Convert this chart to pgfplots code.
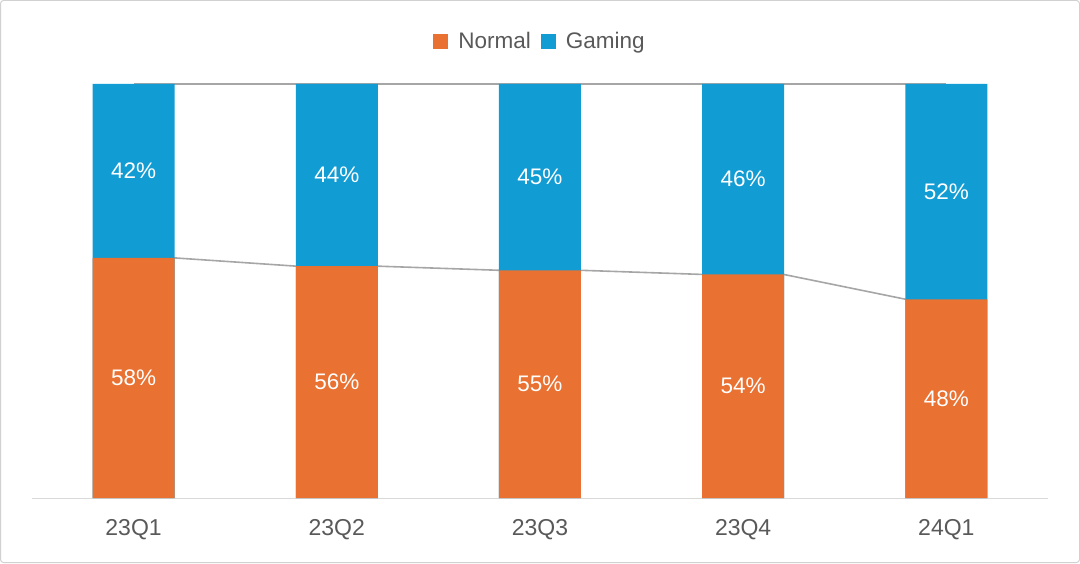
\documentclass[border=0pt]{standalone}
\usepackage{pgfplots}
\pgfplotsset{compat=1.18}
\usepackage{fontspec}
\setmainfont{Liberation Sans}
\definecolor{cNormal}{HTML}{E97132}
\definecolor{cGaming}{HTML}{129CD4}
\definecolor{txt}{HTML}{595959}
\definecolor{lgray}{HTML}{A6A6A6}
\begin{document}
\begin{tikzpicture}[x=1pt,y=1pt]
\draw[color=black!18, line width=1pt, rounded corners=3pt] (0.5,0.5) rectangle (1079.5,562.5);
\begin{axis}[
  at={(32pt,65pt)}, anchor=south west,
  scale only axis, width=1016pt, height=414pt,
  xmin=-0.5, xmax=4.5, ymin=0, ymax=100,
  axis x line=bottom, axis y line=none,
  x axis line style={-, draw=black!15, line width=1pt},
  xtick={0,1,2,3,4}, xticklabels={23Q1,23Q2,23Q3,23Q4,24Q1},
  major tick length=0pt,
  xticklabel style={anchor=base, yshift=-37pt, font=\fontsize{23}{27}\selectfont, text=txt},
  clip=false,
  legend style={at={(0.5,1.103)}, anchor=center, draw=none, fill=none,
    legend columns=-1, font=\fontsize{22.5}{27}\selectfont, text=txt,
    cells={anchor=base},
    /tikz/every odd column/.append style={column sep=8pt},
    /tikz/every even column/.append style={column sep=8pt}},
  legend image code/.code={\fill[#1, draw=none] (0pt,0pt) rectangle (15pt,15pt);},
]
\addlegendimage{fill=cNormal, draw=none}
\addlegendentry{Normal}
\addlegendimage{fill=cGaming, draw=none}
\addlegendentry{Gaming}
% connector lines
\addplot[forget plot, lgray, line width=1.6pt, mark=none] coordinates {(0,100) (4,100)};
\addplot[forget plot, lgray, line width=1.6pt, mark=none] coordinates {(0.2,58) (0.8,56) (1.2,56) (1.8,55) (2.2,55) (2.8,54) (3.2,54) (3.8,48)};
% Gaming (top part) drawn as full-height bars
\addplot[forget plot, ybar, bar width=82pt, bar shift=0pt, fill=cGaming, draw=none] coordinates {(0,100) (1,100) (2,100) (3,100) (4,100)};
% Normal
\addplot[forget plot, ybar, bar width=82pt, bar shift=0pt, fill=cNormal, draw=none] coordinates {(0,58) (1,56) (2,55) (3,54) (4,48)};
% labels
\addplot[forget plot, draw=none, mark=none, nodes near coords, point meta=explicit symbolic,
  nodes near coords style={anchor=center, text=white, font=\fontsize{22.5}{27}\selectfont}]
  coordinates {(0,29)[58\%] (1,28)[56\%] (2,27.5)[55\%] (3,27)[54\%] (4,24)[48\%]};
\addplot[forget plot, draw=none, mark=none, nodes near coords, point meta=explicit symbolic,
  nodes near coords style={anchor=center, text=white, font=\fontsize{22.5}{27}\selectfont}]
  coordinates {(0,79)[42\%] (1,78)[44\%] (2,77.5)[45\%] (3,77)[46\%] (4,74)[52\%]};
\end{axis}
\end{tikzpicture}
\end{document}
